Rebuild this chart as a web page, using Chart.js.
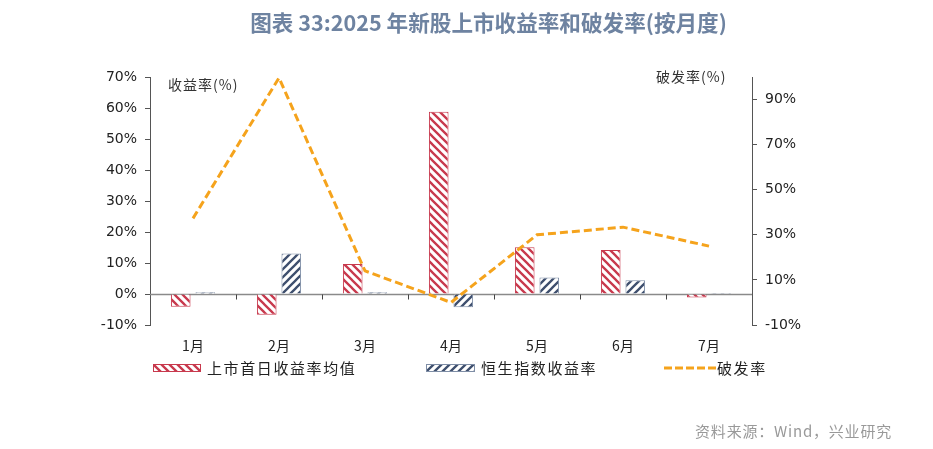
<!DOCTYPE html>
<html>
<head>
<meta charset="utf-8">
<script src="https://cdn.jsdelivr.net/npm/chart.js@4.4.1/dist/chart.umd.min.js"></script>
<style>
  html,body{margin:0;padding:0;background:#fff;}
  #wrap{position:relative;width:933px;height:449px;overflow:hidden;}
  #c{position:absolute;left:0;top:0;}
  .t{position:absolute;white-space:nowrap;font-family:"Noto Sans CJK SC","Noto Sans",sans-serif;}
  #title{left:22px;width:933px;top:6px;text-align:center;font-size:21.6px;font-weight:bold;color:#6e83a1;line-height:32px;}
  #src{right:41px;top:420px;font-size:15px;color:#999;line-height:22px;letter-spacing:0.8px;}
  .unit{font-size:14px;color:#333;line-height:18px;letter-spacing:1px;}
  .lg{font-size:15px;color:#222;line-height:20px;letter-spacing:1.6px;}
  .sw{position:absolute;}
</style>
</head>
<body>
<div id="wrap">
  <canvas id="c" width="933" height="449"></canvas>
  <div class="t" id="title">图表 33:2025 年新股上市收益率和破发率(按月度)</div>
  <div class="t unit" style="left:168px;top:75px;">收益率(%)</div>
  <div class="t unit" style="left:656px;top:67px;">破发率(%)</div>
  <canvas class="sw" id="sw1" width="48" height="8" style="left:153px;top:364px;"></canvas>
  <div class="t lg" style="left:207px;top:358px;">上市首日收益率均值</div>
  <canvas class="sw" id="sw2" width="49" height="8" style="left:426px;top:364px;"></canvas>
  <div class="t lg" style="left:481px;top:358px;">恒生指数收益率</div>
  <canvas class="sw" id="sw3" width="52" height="8" style="left:664px;top:364px;"></canvas>
  <div class="t lg" style="left:717px;top:358px;">破发率</div>
  <div class="t" id="src">资料来源：Wind，兴业研究</div>
</div>
<script>
// ---- data ----
const categories = ['1月','2月','3月','4月','5月','6月','7月'];
const ipoFirstDayReturn = [-4.1, -6.7, 9.7, 58.8, 15.1, 14.2, -1.1];
const hsiReturn = [0.6, 13.1, 0.6, -4.3, 5.3, 4.4, 0.3];
const breakRate = [37.3, 99.6, 14.0, 0.0, 30.0, 33.4, 25.0];
const leftTicks = [-10, 0, 10, 20, 30, 40, 50, 60, 70];
const rightTicks = [-10, 10, 30, 50, 70, 90];

const RED = '#c8394d';
const NAVY = '#3e4f6e';
const ORANGE = '#f5a31c';

function makeTile(color, dir) {
  const s = 8;
  const c = document.createElement('canvas');
  c.width = s; c.height = s;
  const g = c.getContext('2d');
  g.fillStyle = '#fff'; g.fillRect(0, 0, s, s);
  g.strokeStyle = color; g.lineWidth = 2.3;
  g.beginPath();
  for (let k = -1; k <= 1; k++) {
    if (dir === 'back') { g.moveTo(k*s-1, -1); g.lineTo(k*s+s+1, s+1); }
    else { g.moveTo(k*s-1, s+1); g.lineTo(k*s+s+1, -1); }
  }
  g.stroke();
  return c;
}
const mainCtx = document.getElementById('c').getContext('2d');
const redPat = mainCtx.createPattern(makeTile(RED, 'back'), 'repeat');
const navyPat = mainCtx.createPattern(makeTile(NAVY, 'fwd'), 'repeat');

function drawSwatch(id, color, dir, border) {
  const cv = document.getElementById(id);
  const g = cv.getContext('2d');
  g.fillStyle = g.createPattern(makeTile(color, dir), 'repeat');
  g.fillRect(0, 0, cv.width, cv.height);
  g.strokeStyle = border; g.lineWidth = 1;
  g.strokeRect(0.5, 0.5, cv.width - 1, cv.height - 1);
}
drawSwatch('sw1', RED, 'back', RED);
drawSwatch('sw2', NAVY, 'fwd', '#7f8ea6');
(function(){
  const g = document.getElementById('sw3').getContext('2d');
  g.strokeStyle = ORANGE; g.lineWidth = 3; g.setLineDash([8, 3]);
  g.beginPath(); g.moveTo(0, 4); g.lineTo(52, 4); g.stroke();
})();

const zeroLine = {
  id: 'zeroLine',
  beforeDatasetsDraw(chart) {
    const {ctx, chartArea, scales} = chart;
    const y0 = Math.round(scales.y.getPixelForValue(0)) + 0.5;
    ctx.save();
    ctx.strokeStyle = '#8a8a8a';
    ctx.lineWidth = 1.3;
    ctx.beginPath();
    ctx.moveTo(chartArea.left, y0); ctx.lineTo(chartArea.right, y0);
    ctx.stroke();
    ctx.strokeStyle = '#444';
    ctx.lineWidth = 1;
    for (let i = 0; i < categories.length - 1; i++) {
      const xb = Math.round((scales.x.getPixelForValue(i) + scales.x.getPixelForValue(i + 1)) / 2) + 0.5;
      ctx.beginPath(); ctx.moveTo(xb, y0); ctx.lineTo(xb, y0 + 5); ctx.stroke();
    }
    ctx.restore();
  }
};

const tickFont = {family: '"DejaVu Sans", sans-serif', size: 14};

new Chart(document.getElementById('c'), {
  data: {
    labels: categories,
    datasets: [
      {
        type: 'line', label: '破发率', data: breakRate, yAxisID: 'y1',
        borderColor: ORANGE, borderWidth: 3, borderDash: [8, 4],
        pointRadius: 0, fill: false, tension: 0, order: 0
      },
      {
        type: 'bar', label: '上市首日收益率均值', data: ipoFirstDayReturn, yAxisID: 'y',
        backgroundColor: redPat, borderColor: RED, borderWidth: 1,
        categoryPercentage: 0.57, barPercentage: 0.8, order: 1
      },
      {
        type: 'bar', label: '恒生指数收益率', data: hsiReturn, yAxisID: 'y',
        backgroundColor: navyPat, borderColor: '#7f8ea6', borderWidth: 1,
        categoryPercentage: 0.57, barPercentage: 0.8, order: 1
      }
    ]
  },
  options: {
    responsive: false,
    animation: false,
    devicePixelRatio: 1,
    layout: {padding: {top: 77, left: 0, right: 0, bottom: 0}},
    plugins: {legend: {display: false}, tooltip: {enabled: false}, title: {display: false}},
    scales: {
      x: {
        grid: {display: false, drawTicks: false},
        border: {display: false},
        ticks: {font: {family: '"Noto Sans CJK SC", sans-serif', size: 14}, color: '#222', padding: 12},
        afterFit(s) { s.height = 124; }
      },
      y: {
        position: 'left', min: -10, max: 70,
        afterBuildTicks(s) { s.ticks = leftTicks.map(v => ({value: v})); },
        ticks: {font: tickFont, color: '#222', padding: 8, callback: v => v + '%'},
        grid: {drawOnChartArea: false, tickLength: 5, color: '#555'},
        border: {color: '#555', width: 1},
        afterFit(s) { s.width = 150; }
      },
      y1: {
        position: 'right', min: -10, max: 100,
        afterBuildTicks(s) { s.ticks = rightTicks.map(v => ({value: v})); },
        ticks: {font: tickFont, color: '#222', padding: 8, callback: v => v + '%'},
        grid: {drawOnChartArea: false, tickLength: 5, color: '#555'},
        border: {color: '#555', width: 1},
        afterFit(s) { s.width = 181; }
      }
    }
  },
  plugins: [zeroLine]
});
</script>
</body>
</html>
